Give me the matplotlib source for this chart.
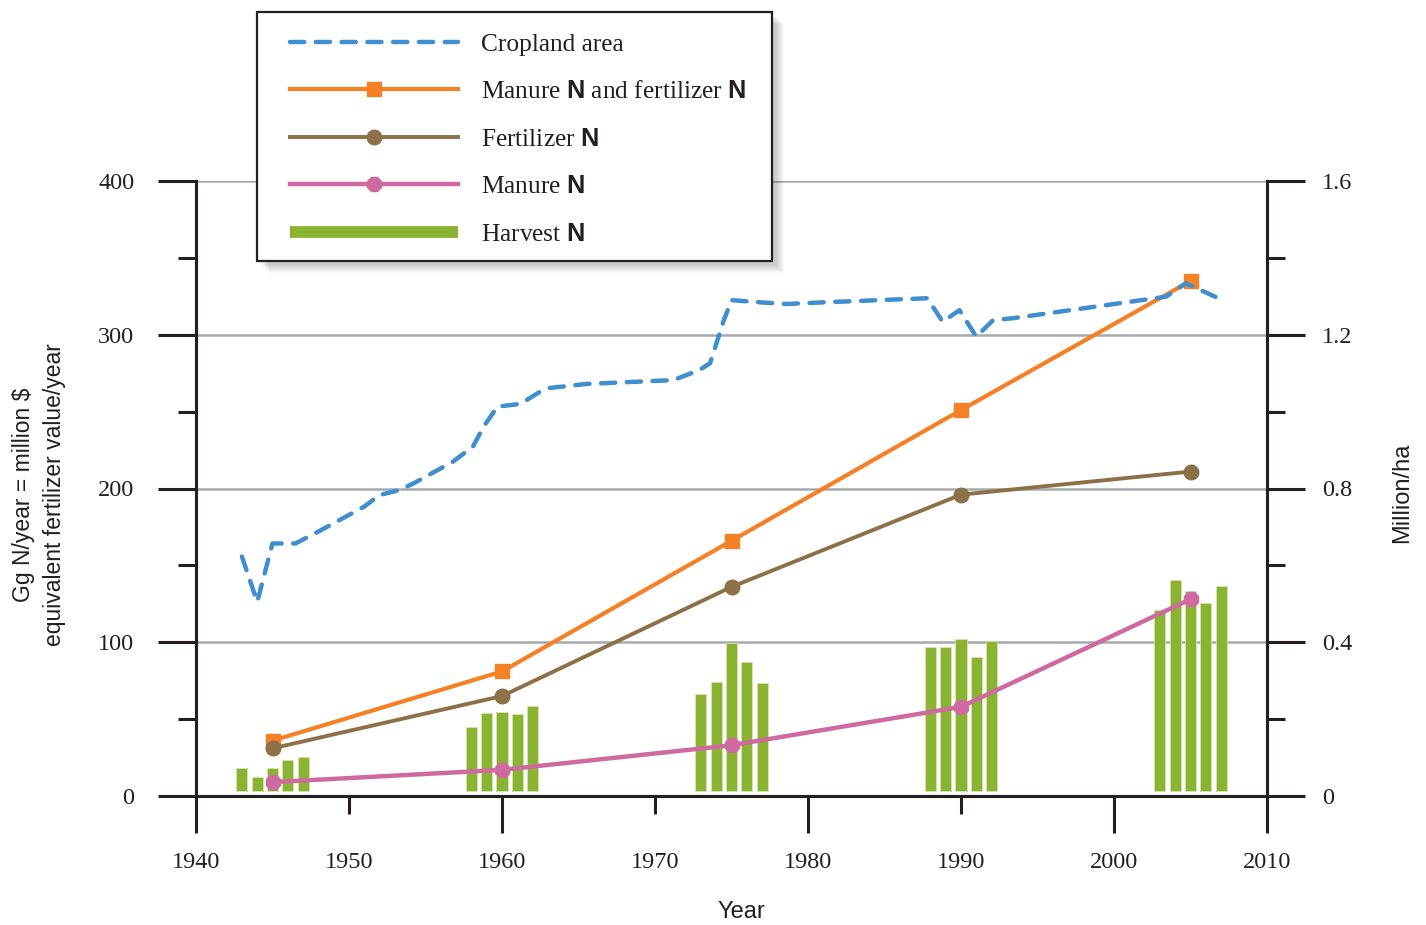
import matplotlib
matplotlib.use("Agg")
import matplotlib.pyplot as plt
from matplotlib import font_manager
from matplotlib.lines import Line2D
from matplotlib.patches import Rectangle
from matplotlib.ticker import FixedLocator, FuncFormatter

# values
line_years = [1945, 1960, 1975, 1990, 2005]
manure_fert = [36, 81, 166, 251, 335]
fertilizer = [31, 65, 136, 196, 211]
manure = [9, 17, 33, 58, 128]

harvest_years = [1943, 1944, 1945, 1946, 1947,
                 1958, 1959, 1960, 1961, 1962,
                 1973, 1974, 1975, 1976, 1977,
                 1988, 1989, 1990, 1991, 1992,
                 2003, 2004, 2005, 2006, 2007]
harvest = [18, 12.6, 18.4, 23.4, 25.2,
           44.7, 53.8, 54.4, 53.5, 58.5,
           66.3, 74.3, 99.3, 87.2, 73.7,
           97.1, 97.1, 102.1, 90.6, 100.8,
           121.0, 140.7, 133.1, 125.7, 136.8]

crop_years = [1943, 1944, 1945, 1946.5, 1948, 1951, 1952, 1953.3, 1954.2, 1956.8,
              1958.1, 1958.8, 1959.7, 1961.2, 1962.5, 1963, 1965.5, 1971.2, 1972.9,
              1973.6, 1974.5, 1975, 1977, 1978.6, 1980.8, 1987.8, 1988.8, 1989.9,
              1991, 1992.1, 1993.4, 2003.4, 2004.7, 2007.2]
crop_area = [0.623, 0.505, 0.657, 0.657, 0.688, 0.753, 0.783, 0.796, 0.813, 0.870,
             0.909, 0.961, 1.013, 1.020, 1.052, 1.061, 1.072, 1.082, 1.108,
             1.126, 1.238, 1.290, 1.284, 1.280, 1.284, 1.295, 1.234, 1.264,
             1.195, 1.238, 1.243, 1.299, 1.334, 1.288]

left_ticks = [0, 100, 200, 300, 400]
right_ticks = [0, 0.4, 0.8, 1.2, 1.6]
year_major = [1940, 1960, 1980, 2000, 2010]
year_minor = [1950, 1970, 1990]

BLUE = "#3f8ecf"
ORANGE = "#f58025"
BROWN = "#8b7048"
PINK = "#cf6aa0"
GREEN = "#8bb332"
INK = "#231f20"
GRID = "#a7a9ac"

names = {f.name for f in font_manager.fontManager.ttflist}
narrow = "Liberation Sans Narrow" if "Liberation Sans Narrow" in names else "Liberation Sans"
serif = "Liberation Serif"

plt.rcParams["mathtext.fontset"] = "custom"
plt.rcParams["mathtext.bf"] = narrow + ":bold"
plt.rcParams["mathtext.rm"] = serif
plt.rcParams["text.color"] = INK

W, H = 1426, 925
fig = plt.figure(figsize=(W / 100, H / 100), dpi=100)
ax = fig.add_axes([196 / W, 1 - 796 / H, (1267 - 196) / W, (796 - 181) / H])
ax2 = ax.twinx()

# harvest bars float a little above the axis line
base = 3
ax.bar(harvest_years, [h - base for h in harvest], bottom=base, width=0.72,
       color=GREEN, edgecolor="#d5e5ad", linewidth=0.6, zorder=2)

ax.plot(line_years, manure_fert, color=ORANGE, lw=3.0, marker="s", ms=9.5, zorder=3)
ax.plot(line_years, fertilizer, color=BROWN, lw=2.8, marker="o", ms=10.5, zorder=3)
ax.plot(line_years, manure, color=PINK, lw=3.2, marker="8", ms=10.5, zorder=3)

ax2.plot(crop_years, crop_area, color=BLUE, lw=3.2, dashes=(3.2, 2.6),
         dash_capstyle="round", dash_joinstyle="round", zorder=4)

ax.set_xlim(1940, 2010)
ax.set_ylim(0, 400)
ax2.set_ylim(0, 1.6)

ax.yaxis.grid(True, which="major", color=GRID, lw=1.8, zorder=0)
ax.set_axisbelow(True)

for a in (ax, ax2):
    a.spines["top"].set_visible(False)
    for s in ("left", "right", "bottom"):
        a.spines[s].set_color(INK)
        a.spines[s].set_linewidth(2.2)

ax.yaxis.set_major_locator(FixedLocator(left_ticks))
ax.yaxis.set_minor_locator(FixedLocator([50, 150, 250, 350]))
ax2.yaxis.set_major_locator(FixedLocator(right_ticks))
ax2.yaxis.set_minor_locator(FixedLocator([0.2, 0.6, 1.0, 1.4]))
ax2.yaxis.set_major_formatter(FuncFormatter(lambda v, p: "0" if v == 0 else f"{v:.1f}"))

ax.xaxis.set_major_locator(FixedLocator(year_major))
ax.xaxis.set_minor_locator(FixedLocator(year_minor))
ax.xaxis.set_minor_formatter(FuncFormatter(lambda v, p: f"{v:.0f}"))

ax.tick_params(axis="y", which="major", length=27.4, width=2.2, color=INK, pad=17,
               labelsize=17.5, labelcolor=INK)
ax.tick_params(axis="y", which="minor", length=13, width=2.2, color=INK)
ax2.tick_params(axis="y", which="major", length=27.4, width=2.2, color=INK, pad=12,
                labelsize=17.5, labelcolor=INK)
ax2.tick_params(axis="y", which="minor", length=13, width=2.2, color=INK)
ax.tick_params(axis="x", which="major", length=26.6, width=2.2, color=INK, pad=14,
               labelsize=17.5, labelcolor=INK)
ax.tick_params(axis="x", which="minor", length=13, width=2.2, color=INK, pad=27.6,
               labelsize=17.5, labelcolor=INK)
for lab in ax.get_xticklabels(which="both") + ax.get_yticklabels() + ax2.get_yticklabels():
    lab.set_fontfamily(serif)

fig.text(741 / W, 1 - 912 / H, "Year", family=narrow, fontsize=17, ha="center", va="center")
fig.text(1402 / W, 1 - 493 / H, "Million/ha", family=narrow, fontsize=17, rotation=90,
         ha="center", va="center")
fig.text(39 / W, 1 - 495 / H, "Gg N/year = million $\nequivalent fertilizer value/year",
         family=narrow, fontsize=16.5, rotation=90, ha="center", va="center",
         multialignment="center", linespacing=1.45)

# legend box with a soft shadow
bx, by, bw, bh = 257 / W, 1 - 261 / H, 515 / W, 249 / H
for i in range(1, 10):
    fig.add_artist(Rectangle((bx + (3 + i) / W, by - (3 + i) / H), bw, bh,
                             transform=fig.transFigure, facecolor="#000000",
                             edgecolor="none", alpha=0.022, zorder=2))
fig.add_artist(Rectangle((bx, by), bw, bh, transform=fig.transFigure, facecolor="white",
                         edgecolor=INK, lw=1.6, zorder=3))

handles = [
    Line2D([], [], color=BLUE, lw=3.2, dashes=(3.2, 2.6), dash_capstyle="round"),
    Line2D([], [], color=ORANGE, lw=3.0, marker="s", ms=9.5),
    Line2D([], [], color=BROWN, lw=2.8, marker="o", ms=10.5),
    Line2D([], [], color=PINK, lw=3.2, marker="8", ms=10.5),
    Line2D([], [], color=GREEN, lw=8.5, solid_capstyle="butt"),
]
labels = ["Cropland area",
          r"Manure $\mathbf{N}$ and fertilizer $\mathbf{N}$",
          r"Fertilizer $\mathbf{N}$",
          r"Manure $\mathbf{N}$",
          r"Harvest $\mathbf{N}$"]
fs = 18.3
leg = fig.legend(handles, labels, loc="upper left", bbox_to_anchor=(290 / W, 1 - 33 / H),
                 frameon=False, borderpad=0, borderaxespad=0, numpoints=1,
                 handlelength=168 / (fs * 100 / 72), handletextpad=23 / (fs * 100 / 72),
                 labelspacing=0.97, prop={"family": serif, "size": fs})
leg.set_zorder(5)

fig.savefig("out.png", dpi=100)
